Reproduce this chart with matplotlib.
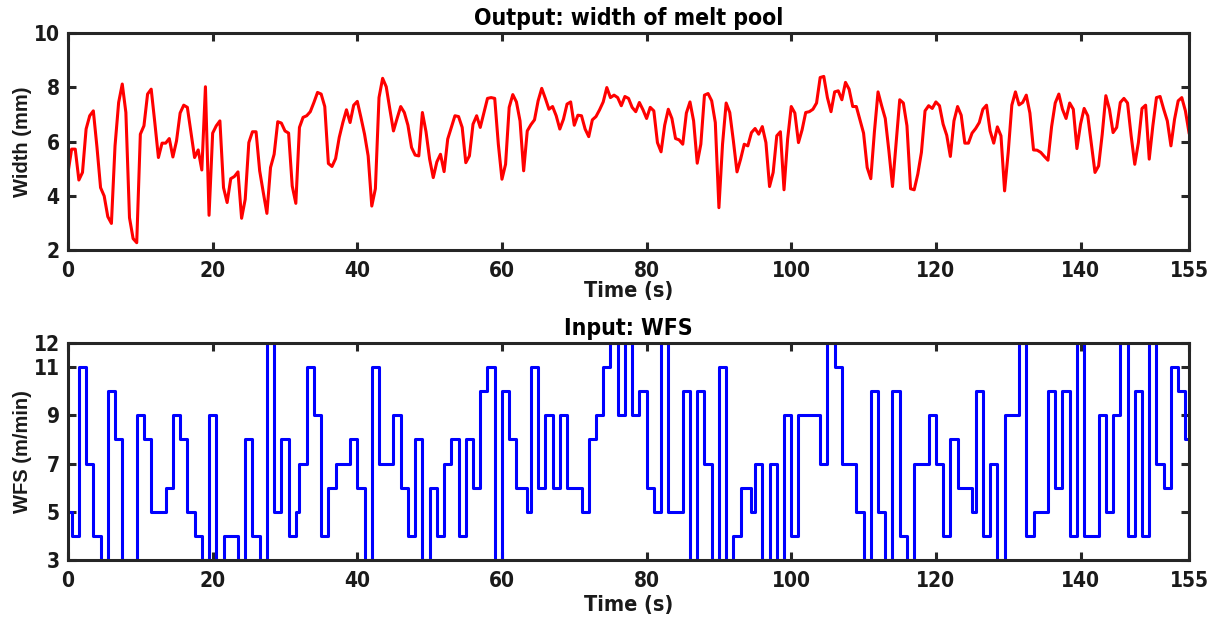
"""
plot.py — melt pool width response to a stepped wire feed speed input.
"""

import numpy as np
import matplotlib
matplotlib.use("Agg")
import matplotlib.pyplot as plt
from matplotlib import font_manager

# melt pool width (mm), sampled every 0.5 s from 0 to 155 s
width_mm = [
    4.86, 5.72, 5.72, 4.58, 4.86, 6.46, 6.95, 7.13, 5.80, 4.30,
    3.99, 3.23, 2.98, 5.84, 7.44, 8.12, 7.07, 3.19, 2.42, 2.27,
    6.27, 6.58, 7.75, 7.93, 6.70, 5.41, 5.94, 5.94, 6.11, 5.43,
    6.02, 7.05, 7.34, 7.26, 6.33, 5.41, 5.69, 4.95, 8.02, 3.28,
    6.31, 6.58, 6.76, 4.30, 3.75, 4.63, 4.71, 4.88, 3.17, 3.87,
    5.96, 6.36, 6.36, 4.92, 4.12, 3.35, 5.04, 5.53, 6.73, 6.68,
    6.39, 6.31, 4.36, 3.72, 6.52, 6.89, 6.95, 7.10, 7.44, 7.81,
    7.75, 7.29, 5.19, 5.08, 5.37, 6.15, 6.70, 7.17, 6.70, 7.34,
    7.48, 6.89, 6.27, 5.47, 3.62, 4.26, 7.62, 8.33, 8.02, 7.19,
    6.39, 6.85, 7.29, 7.07, 6.60, 5.78, 5.50, 5.47, 7.07, 6.36,
    5.35, 4.67, 5.25, 5.53, 4.89, 6.09, 6.52, 6.95, 6.92, 6.52,
    5.22, 5.47, 6.64, 6.95, 6.52, 7.05, 7.59, 7.62, 7.59, 5.90,
    4.61, 5.16, 7.26, 7.73, 7.46, 6.76, 4.92, 6.39, 6.62, 6.80,
    7.50, 7.96, 7.59, 7.19, 7.29, 6.95, 6.46, 6.82, 7.38, 7.46,
    6.60, 6.97, 6.95, 6.46, 6.18, 6.80, 6.92, 7.17, 7.46, 7.99,
    7.62, 7.71, 7.62, 7.32, 7.66, 7.59, 7.26, 7.10, 7.44, 7.17,
    6.85, 7.26, 7.13, 5.96, 5.62, 6.60, 7.19, 6.85, 6.11, 6.06,
    5.90, 7.05, 7.46, 6.76, 5.20, 5.90, 7.71, 7.77, 7.50, 6.70,
    3.56, 5.90, 7.42, 7.07, 6.02, 4.88, 5.35, 5.90, 5.84, 6.33,
    6.48, 6.27, 6.55, 5.96, 4.34, 4.86, 6.21, 6.36, 4.22, 6.09,
    7.29, 7.05, 5.96, 6.43, 7.07, 7.10, 7.19, 7.42, 8.36, 8.40,
    7.62, 7.10, 7.83, 7.87, 7.54, 8.18, 7.93, 7.29, 7.29, 6.80,
    6.31, 5.04, 4.63, 6.36, 7.83, 7.32, 6.85, 5.66, 4.34, 5.96,
    7.54, 7.42, 6.58, 4.26, 4.22, 4.80, 5.60, 7.13, 7.32, 7.22,
    7.46, 7.32, 6.64, 6.23, 5.45, 6.76, 7.29, 6.97, 5.94, 5.94,
    6.31, 6.48, 6.70, 7.19, 7.34, 6.39, 5.94, 6.54, 6.21, 4.18,
    5.60, 7.34, 7.83, 7.35, 7.44, 7.71, 7.05, 5.69, 5.68, 5.60,
    5.45, 5.31, 6.55, 7.42, 7.75, 7.19, 6.85, 7.42, 7.19, 5.74,
    6.64, 7.22, 6.95, 5.90, 4.86, 5.10, 6.27, 7.69, 7.19, 6.33,
    6.52, 7.44, 7.59, 7.42, 6.21, 5.16, 5.96, 7.22, 7.34, 5.35,
    6.58, 7.62, 7.66, 7.19, 6.76, 5.84, 6.82, 7.50, 7.62, 7.13,
    6.33,
]
width_time = np.arange(len(width_mm)) * 0.5

# wire feed speed (m/min): time at which each level starts
wfs_start = [
    0, 0.5, 1.5, 2.5, 3.5, 4.5, 5.5, 6.5, 7.5, 9.5,
    10.5, 11.5, 13.5, 14.5, 15.5, 16.5, 17.5, 18.5, 19.5, 20.5,
    21.5, 23.5, 24.5, 25.5, 26.5, 27.5, 28.5, 29.5, 30.5, 31.5,
    32, 33, 34, 35, 36, 37, 39, 40, 41, 42,
    43, 45, 46, 47, 48, 49, 50, 51, 52, 53,
    54, 55, 56, 57, 58, 59, 60, 61, 62, 63.5,
    64, 65, 66, 67, 68, 69, 71, 72, 73, 74,
    75, 76, 77, 78, 79, 80, 81, 82, 83, 85,
    86, 87, 88, 89, 90, 91, 92, 93, 94.5, 95,
    96, 97, 98, 99, 100, 101, 104, 105, 106, 107,
    109, 110, 111, 112, 113, 114, 115, 116, 117, 119,
    120, 121, 122, 123, 125, 125.5, 126.5, 127.5, 128.5, 129.5,
    131.5, 132.5, 133.5, 135.5, 136.5, 137.5, 138.5, 139.5, 140.5, 142.5,
    143.5, 144.5, 145.5, 146.5, 147.5, 148.5, 149.5, 150.5, 151.5, 152.5,
    153.5, 154.5,
]
wfs_level = [
    5, 4, 11, 7, 4, 3, 10, 8, 3, 9,
    8, 5, 6, 9, 8, 5, 4, 3, 9, 3,
    4, 3, 8, 4, 3, 12, 5, 8, 4, 5,
    7, 11, 9, 4, 6, 7, 8, 6, 3, 11,
    7, 9, 6, 4, 8, 3, 6, 4, 7, 8,
    4, 8, 6, 10, 11, 3, 10, 8, 6, 5,
    11, 6, 9, 6, 9, 6, 5, 8, 9, 11,
    12, 9, 12, 9, 10, 6, 5, 12, 5, 10,
    3, 10, 7, 3, 11, 3, 4, 6, 5, 7,
    3, 7, 3, 9, 4, 9, 7, 12, 11, 7,
    5, 3, 10, 5, 3, 10, 4, 3, 7, 9,
    7, 4, 8, 6, 5, 10, 4, 7, 3, 9,
    12, 4, 5, 10, 6, 10, 4, 12, 4, 9,
    5, 9, 12, 4, 10, 4, 12, 7, 6, 11,
    10, 8,
]
t_end = 155

width_ticks = [2, 4, 6, 8, 10]
wfs_ticks = [3, 5, 7, 9, 11, 12]
time_ticks = [0, 20, 40, 60, 80, 100, 120, 140, 155]

# the reference uses a narrow bold sans; use a condensed face if one is installed
stretch = "normal"
family = ["Liberation Sans", "DejaVu Sans"]
names = {(f.name, f.stretch) for f in font_manager.fontManager.ttflist}
if any(n == "Liberation Sans Narrow" for n, _ in names):
    family = ["Liberation Sans Narrow"] + family
elif ("DejaVu Sans", "condensed") in names:
    family = ["DejaVu Sans"]
    stretch = "condensed"

plt.rcParams["font.family"] = family
plt.rcParams["font.stretch"] = stretch
plt.rcParams["font.weight"] = "bold"
plt.rcParams["axes.labelweight"] = "bold"
plt.rcParams["axes.titleweight"] = "bold"

AX_COLOR = "#262626"
TEXT_COLOR = "#1a1a1a"
# vertical labels look un-narrowed in the reference
YLABEL_FONT = dict(family=["Liberation Sans", "DejaVu Sans"], stretch="normal",
                   fontsize=14.5, color=TEXT_COLOR)


def style_axes(ax, xlabelpad):
    for s in ax.spines.values():
        s.set_linewidth(2.2)
        s.set_color(AX_COLOR)
    ax.tick_params(direction="in", length=6, width=2.2, colors=AX_COLOR,
                   labelsize=15, top=True, right=True)
    ax.tick_params(axis="x", pad=8)
    ax.tick_params(axis="y", pad=6)
    for lab in ax.get_xticklabels() + ax.get_yticklabels():
        lab.set_color(TEXT_COLOR)
    ax.set_xlim(0, t_end)
    ax.set_xticks(time_ticks)
    ax.set_xlabel("Time (s)", fontsize=15.5, labelpad=xlabelpad, color=TEXT_COLOR)


fig = plt.figure(figsize=(12.19, 6.28), dpi=100)
ax1 = fig.add_axes([0.0558, 0.6019, 0.9196, 0.3455])
ax2 = fig.add_axes([0.0558, 0.1083, 0.9196, 0.3455])

ax1.plot(width_time, width_mm, color="red", linewidth=2.2)
ax1.set_ylim(2, 10)
ax1.set_yticks(width_ticks)
ax1.set_ylabel("Width (mm)", labelpad=1, **YLABEL_FONT)
ax1.set_title("Output: width of melt pool", fontsize=16.5, pad=6, color="black")
style_axes(ax1, 0)

ax2.step(wfs_start + [t_end], wfs_level + [wfs_level[-1]], where="post",
         color="blue", linewidth=2.2)
ax2.set_ylim(3, 12)
ax2.set_yticks(wfs_ticks)
ax2.set_ylabel("WFS (m/min)", labelpad=1, **YLABEL_FONT)
ax2.set_title("Input: WFS", fontsize=16.5, pad=6, color="black")
style_axes(ax2, 3)

fig.savefig("out.png", dpi=100)
plt.close(fig)
